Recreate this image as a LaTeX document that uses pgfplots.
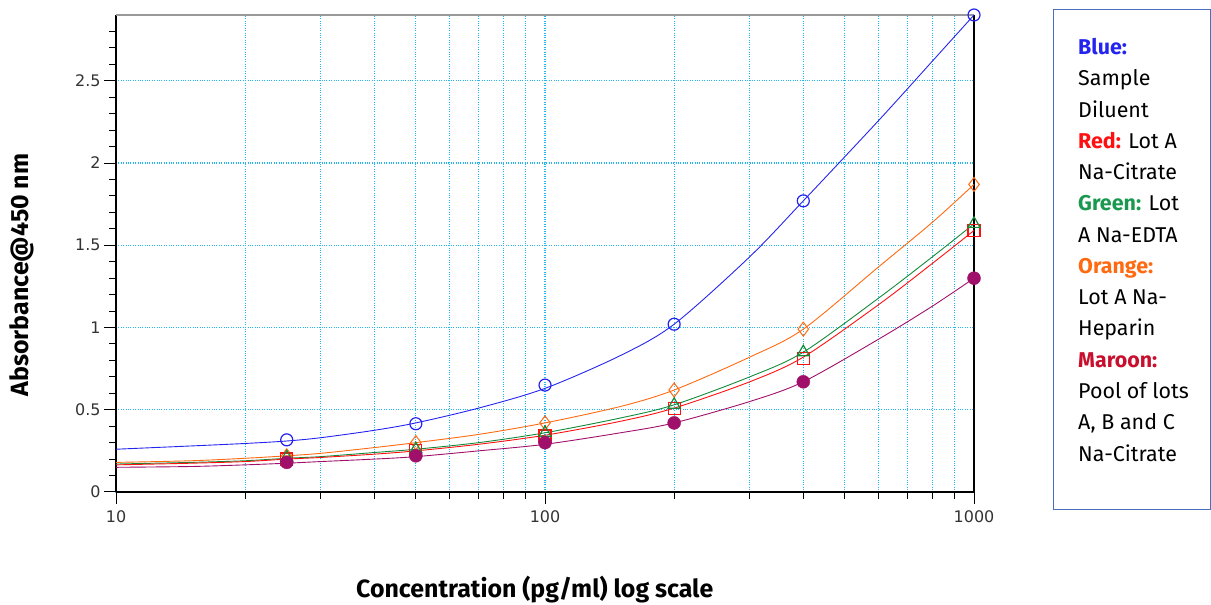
\documentclass[border=0pt]{standalone}
\usepackage{pgfplots}
\pgfplotsset{compat=1.18}
\usepackage{fontspec}
\setmainfont{Fira Sans}
\newfontfamily\tickfont{DejaVu Sans}
\definecolor{cblue}{HTML}{2424F0}
\definecolor{cred}{HTML}{FF1010}
\definecolor{cgreen}{HTML}{138A3A}
\definecolor{corange}{HTML}{FF6A10}
\definecolor{cmaroon}{HTML}{A0106A}
\definecolor{lmaroon}{HTML}{C8102E}
\definecolor{lgreen}{HTML}{1A9850}
\definecolor{gridc}{HTML}{20B8F0}
\definecolor{boxc}{HTML}{4A6FC0}
\begin{document}
\begin{tikzpicture}[x=1bp,y=1bp]
\path[use as bounding box] (0,0) rectangle (1211,605);
\begin{axis}[
  at={(116bp,113bp)}, anchor=south west,
  scale only axis, width=858bp, height=477bp,
  xmode=log, xmin=10, xmax=1000, ymin=0, ymax=2.9,
  axis x line*=bottom, axis y line*=box,
  xtick={10,100,1000}, xticklabels={10,100,1000},
  ytick={0,0.5,1,1.5,2,2.5},
  yticklabels={0,0.5,1,1.5,2,2.5},
  minor ytick={0.1,0.2,0.3,0.4,0.6,0.7,0.8,0.9,1.1,1.2,1.3,1.4,1.6,1.7,1.8,1.9,2.1,2.2,2.3,2.4,2.6,2.7,2.8},
  xtick pos=bottom, ytick pos=left,
  tick align=outside,
  major tick length=12bp, minor tick length=7bp,
  every tick/.style={black, line width=1pt},
  every minor tick/.style={black, line width=1pt},
  axis line style={black, line width=1.2pt},
  xmajorgrids=true, xminorgrids=true, ymajorgrids=true, yminorgrids=false,
  major grid style={gridc, dotted, line width=1.2pt},
  minor grid style={gridc, dotted, line width=1.2pt},
  /pgf/number format/assume math mode=true,
  tick label style={font=\tickfont\fontsize{16}{19}\selectfont, text=black!80},
  xticklabel style={yshift=-3bp},
  xlabel={\textbf{Concentration (pg/ml) log scale}},
  ylabel={\textbf{Absorbance@450 nm}},
  label style={font=\fontsize{25}{28}\selectfont},
  xlabel style={at={(axis description cs:0.488,-0.2055)}, anchor=center},
  ylabel style={at={(axis description cs:-0.1096,0.455)}, anchor=center},
  clip=false,
]
\draw[black!40, line width=1.5pt] (rel axis cs:0,1) -- (rel axis cs:1,1);
% fitted curves
\addplot[cblue, line width=0.9pt, smooth] coordinates {
 (10,0.26) (15,0.28) (20,0.295) (25,0.31) (30,0.33) (40,0.375) (50,0.42) (70,0.51) (100,0.63) (150,0.83) (200,1.02) (300,1.43) (400,1.77) (600,2.26) (800,2.62) (1000,2.90)};
\addplot[corange, line width=0.9pt, smooth] coordinates {
 (10,0.18) (15,0.19) (20,0.205) (25,0.22) (30,0.235) (40,0.27) (50,0.30) (70,0.35) (100,0.42) (150,0.52) (200,0.62) (300,0.82) (400,0.99) (600,1.37) (800,1.64) (1000,1.87)};
\addplot[cgreen, line width=0.9pt, smooth] coordinates {
 (10,0.17) (15,0.18) (20,0.19) (25,0.205) (30,0.215) (40,0.24) (50,0.26) (70,0.30) (100,0.36) (150,0.45) (200,0.53) (300,0.70) (400,0.85) (600,1.18) (800,1.43) (1000,1.63)};
\addplot[cred, line width=0.9pt, smooth] coordinates {
 (10,0.165) (15,0.175) (20,0.185) (25,0.20) (30,0.21) (40,0.23) (50,0.25) (70,0.29) (100,0.345) (150,0.43) (200,0.51) (300,0.67) (400,0.82) (600,1.14) (800,1.39) (1000,1.59)};
\addplot[cmaroon, line width=0.9pt, smooth] coordinates {
 (10,0.15) (15,0.155) (20,0.165) (25,0.175) (30,0.185) (40,0.20) (50,0.215) (70,0.25) (100,0.29) (150,0.36) (200,0.42) (300,0.55) (400,0.67) (600,0.93) (800,1.13) (1000,1.30)};
% data points
\addplot[only marks, mark=o, mark size=6bp, cblue, line width=1.2pt] coordinates {
 (25,0.317) (50,0.415) (100,0.65) (200,1.02) (400,1.77) (1000,2.90)};
\addplot[only marks, mark=diamond, mark size=7bp, corange, line width=1pt] coordinates {
 (25,0.22) (50,0.30) (100,0.42) (200,0.62) (400,0.99) (1000,1.87)};
\addplot[only marks, mark=square, mark size=6bp, cred, line width=1.2pt] coordinates {
 (25,0.20) (50,0.25) (100,0.34) (200,0.51) (400,0.81) (1000,1.59)};
\addplot[only marks, mark=triangle, mark size=7bp, cgreen, line width=1.2pt] coordinates {
 (25,0.21) (50,0.26) (100,0.36) (200,0.53) (400,0.85) (1000,1.63)};
\addplot[only marks, mark=*, mark size=6.5bp, cmaroon] coordinates {
 (25,0.18) (50,0.22) (100,0.30) (200,0.42) (400,0.67) (1000,1.30)};
\end{axis}
\draw[boxc, line width=1pt] (1053,95) rectangle (1210,595);
\node[anchor=north west, align=left, inner sep=0pt,
  font=\fontsize{21.5}{31.4}\selectfont] at (1078,567) {%
\textcolor{cblue}{\textbf{Blue:}}\\
Sample\\
Diluent\\
\textcolor{cred}{\textbf{Red:}} Lot A\\
Na-Citrate\\
\textcolor{lgreen}{\textbf{Green:}} Lot\\
A Na-EDTA\\
\textcolor{corange}{\textbf{Orange:}}\\
Lot A Na-\\
Heparin\\
\textcolor{lmaroon}{\textbf{Maroon:}}\\
Pool of lots\\
A, B and C\\
Na-Citrate};
\end{tikzpicture}
\end{document}
